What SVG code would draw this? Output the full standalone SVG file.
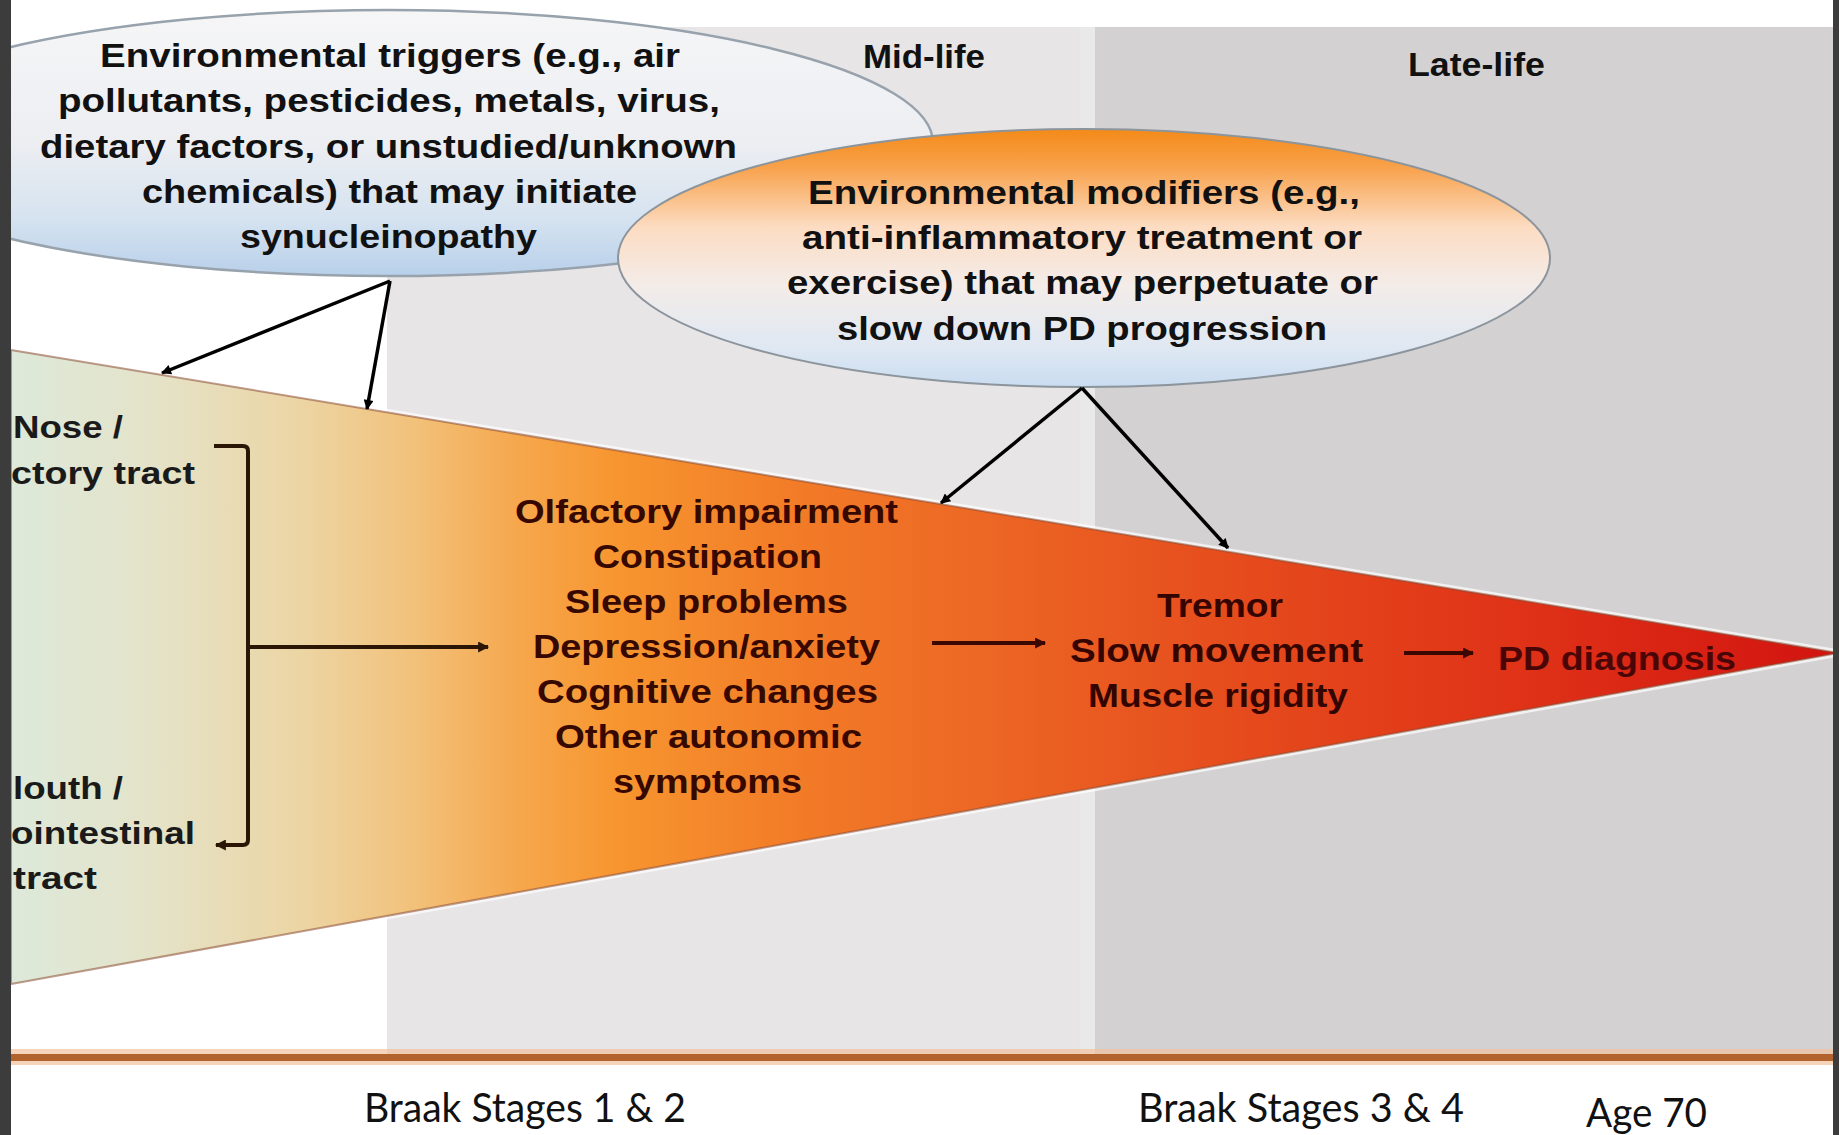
<svg xmlns="http://www.w3.org/2000/svg" width="1839" height="1135" viewBox="0 0 1839 1135">
<style>
.b{font-family:"Liberation Sans",Arial,sans-serif;font-weight:bold;font-size:33px;fill:#111}
.s{fill:#360800}
.m{fill:#340500}
.pd{fill:#4a0606}
.lab{font-family:"Liberation Sans",Arial,sans-serif;font-weight:bold;font-size:32px;fill:#1a1a1a}
.st{font-family:Lato,"Liberation Sans",sans-serif;font-size:40px;fill:#111}
.blk{stroke:#000;stroke-width:3.5;fill:none}
.brn{stroke:#2b1605;stroke-width:4;fill:none}
.red{stroke:#3a0800;stroke-width:4;fill:none}
</style>
<defs>
<linearGradient id="gE1" x1="0" y1="0" x2="0" y2="1">
<stop offset="0" stop-color="#f6f6f7"/>
<stop offset="0.5" stop-color="#eceef2"/>
<stop offset="0.78" stop-color="#d6e3f0"/>
<stop offset="1" stop-color="#b8d0ea"/>
</linearGradient>
<linearGradient id="gE2" x1="0" y1="0" x2="0" y2="1">
<stop offset="0" stop-color="#f48a18"/>
<stop offset="0.15" stop-color="#f8a24c"/>
<stop offset="0.38" stop-color="#fcdcc2"/>
<stop offset="0.6" stop-color="#f4ece8"/>
<stop offset="0.85" stop-color="#dfe8f3"/>
<stop offset="1" stop-color="#c9dcf0"/>
</linearGradient>
<linearGradient id="gT" gradientUnits="userSpaceOnUse" x1="11" y1="0" x2="1833" y2="0">
<stop offset="0" stop-color="#dde9da"/>
<stop offset="0.076" stop-color="#e4e3c9"/>
<stop offset="0.159" stop-color="#ecd5a4"/>
<stop offset="0.224" stop-color="#f2c078"/>
<stop offset="0.279" stop-color="#f6a74c"/>
<stop offset="0.334" stop-color="#f7952f"/>
<stop offset="0.433" stop-color="#f27b27"/>
<stop offset="0.543" stop-color="#ec6524"/>
<stop offset="0.68" stop-color="#e54a1c"/>
<stop offset="0.817" stop-color="#e03418"/>
<stop offset="1" stop-color="#d21410"/>
</linearGradient>
<marker id="aK" viewBox="0 0 10 10" refX="9" refY="5" markerWidth="12" markerHeight="10" markerUnits="userSpaceOnUse" orient="auto"><path d="M0,0 L10,5 L0,10 z" fill="#000"/></marker>
<marker id="aB" viewBox="0 0 10 10" refX="9" refY="5" markerWidth="12" markerHeight="11" markerUnits="userSpaceOnUse" orient="auto"><path d="M0,0 L10,5 L0,10 z" fill="#2b1605"/></marker>
<marker id="aR" viewBox="0 0 10 10" refX="9" refY="5" markerWidth="13" markerHeight="11" markerUnits="userSpaceOnUse" orient="auto"><path d="M0,0 L10,5 L0,10 z" fill="#3a0800"/></marker>
</defs>

<g id="background">
<rect x="0" y="0" width="1839" height="1135" fill="#ffffff"/>
<rect x="387" y="27" width="708" height="1027" fill="#e7e5e6"/>
<rect x="1080" y="27" width="15" height="1027" fill="#eae9e9"/>
<rect x="1095" y="27" width="738" height="1027" fill="#d3d1d2"/>
</g>

<g id="timeline">
<rect x="11" y="1049" width="1822" height="16" fill="#f1c29c" opacity="0.7"/>
<line x1="11" y1="1057.5" x2="1833" y2="1057.5" stroke="#b2622d" stroke-width="7"/>
</g>

<g id="progression-wedge">
<polygon points="11,350 1833,652 1833,654 11,984" fill="none" stroke="#ffffff" stroke-opacity="0.7" stroke-width="7"/>
<polygon points="11,350 1833,652 1833,654 11,984" fill="url(#gT)" stroke="#8a4a32" stroke-opacity="0.55" stroke-width="2"/>
</g>

<g id="env-triggers">
<ellipse cx="388" cy="143" rx="545" ry="133" fill="url(#gE1)" stroke="#98a2ad" stroke-width="2.5"/>
<text class="b" x="100" y="67" textLength="580" lengthAdjust="spacingAndGlyphs">Environmental triggers (e.g., air</text>
<text class="b" x="58" y="112" textLength="662" lengthAdjust="spacingAndGlyphs">pollutants, pesticides, metals, virus,</text>
<text class="b" x="40" y="158" textLength="697" lengthAdjust="spacingAndGlyphs">dietary factors, or unstudied/unknown</text>
<text class="b" x="142" y="203" textLength="495" lengthAdjust="spacingAndGlyphs">chemicals) that may initiate</text>
<text class="b" x="240" y="248" textLength="297" lengthAdjust="spacingAndGlyphs">synucleinopathy</text>
</g>

<g id="period-labels">
<text class="b" x="863" y="68" textLength="122" lengthAdjust="spacingAndGlyphs">Mid-life</text>
<text class="b" x="1408" y="76" textLength="137" lengthAdjust="spacingAndGlyphs">Late-life</text>
</g>

<g id="env-modifiers">
<ellipse cx="1084" cy="258" rx="466" ry="129" fill="url(#gE2)" stroke="#8c949c" stroke-width="2"/>
<text class="b" x="808" y="204" textLength="552" lengthAdjust="spacingAndGlyphs">Environmental modifiers (e.g.,</text>
<text class="b" x="802" y="249" textLength="560" lengthAdjust="spacingAndGlyphs">anti-inflammatory  treatment or</text>
<text class="b" x="787" y="294" textLength="591" lengthAdjust="spacingAndGlyphs">exercise) that may perpetuate or</text>
<text class="b" x="837" y="340" textLength="490" lengthAdjust="spacingAndGlyphs">slow down PD progression</text>
</g>

<g id="origin-labels">
<text class="lab" x="13" y="438" textLength="110" lengthAdjust="spacingAndGlyphs">Nose /</text>
<text class="lab" x="11" y="484" textLength="184" lengthAdjust="spacingAndGlyphs">ctory tract</text>
<text class="lab" x="13" y="799" textLength="110" lengthAdjust="spacingAndGlyphs">louth /</text>
<text class="lab" x="11" y="844" textLength="184" lengthAdjust="spacingAndGlyphs">ointestinal</text>
<text class="lab" x="13" y="889" textLength="84" lengthAdjust="spacingAndGlyphs">tract</text>
</g>

<g id="prodromal-symptoms">
<text class="b s" x="515" y="523" textLength="383" lengthAdjust="spacingAndGlyphs">Olfactory impairment</text>
<text class="b s" x="593" y="568" textLength="229" lengthAdjust="spacingAndGlyphs">Constipation</text>
<text class="b s" x="565" y="613" textLength="283" lengthAdjust="spacingAndGlyphs">Sleep problems</text>
<text class="b s" x="533" y="658" textLength="347" lengthAdjust="spacingAndGlyphs">Depression/anxiety</text>
<text class="b s" x="537" y="703" textLength="341" lengthAdjust="spacingAndGlyphs">Cognitive changes</text>
<text class="b s" x="555" y="748" textLength="307" lengthAdjust="spacingAndGlyphs">Other autonomic</text>
<text class="b s" x="613" y="793" textLength="189" lengthAdjust="spacingAndGlyphs">symptoms</text>
</g>

<g id="motor-symptoms">
<text class="b m" x="1157" y="617" textLength="126" lengthAdjust="spacingAndGlyphs">Tremor</text>
<text class="b m" x="1070" y="662" textLength="293" lengthAdjust="spacingAndGlyphs">Slow movement</text>
<text class="b m" x="1088" y="707" textLength="260" lengthAdjust="spacingAndGlyphs">Muscle rigidity</text>
</g>

<g id="pd-diagnosis">
<text class="b pd" x="1498" y="670" textLength="238" lengthAdjust="spacingAndGlyphs">PD diagnosis</text>
</g>

<g id="connectors">
<line class="blk" x1="390" y1="281" x2="162" y2="373" marker-end="url(#aK)"/>
<line class="blk" x1="390" y1="281" x2="367" y2="409" marker-end="url(#aK)"/>
<line class="blk" x1="1082" y1="388" x2="941" y2="503" marker-end="url(#aK)"/>
<line class="blk" x1="1082" y1="388" x2="1228" y2="548" marker-end="url(#aK)"/>
<path class="brn" d="M214,446 L243,446 Q248,446 248,451 L248,840 Q248,845 243,845 L216,845" marker-end="url(#aB)"/>
<line class="brn" x1="248" y1="647" x2="488" y2="647" marker-end="url(#aB)"/>
<line class="red" x1="932" y1="643" x2="1045" y2="643" marker-end="url(#aR)"/>
<line class="red" x1="1404" y1="653" x2="1473" y2="653" marker-end="url(#aR)"/>
</g>

<g id="stage-labels">
<text class="st" x="364" y="1122" textLength="322" lengthAdjust="spacingAndGlyphs">Braak Stages 1 &amp; 2</text>
<text class="st" x="1138" y="1122" textLength="326" lengthAdjust="spacingAndGlyphs">Braak Stages 3 &amp; 4</text>
<text class="st" x="1586" y="1127" textLength="121" lengthAdjust="spacingAndGlyphs">Age 70</text>
</g>

<g id="frame">
<rect x="0" y="0" width="11" height="1135" fill="#3c3c3c"/>
<rect x="1833" y="0" width="6" height="1135" fill="#3c3c3c"/>
</g>
</svg>
